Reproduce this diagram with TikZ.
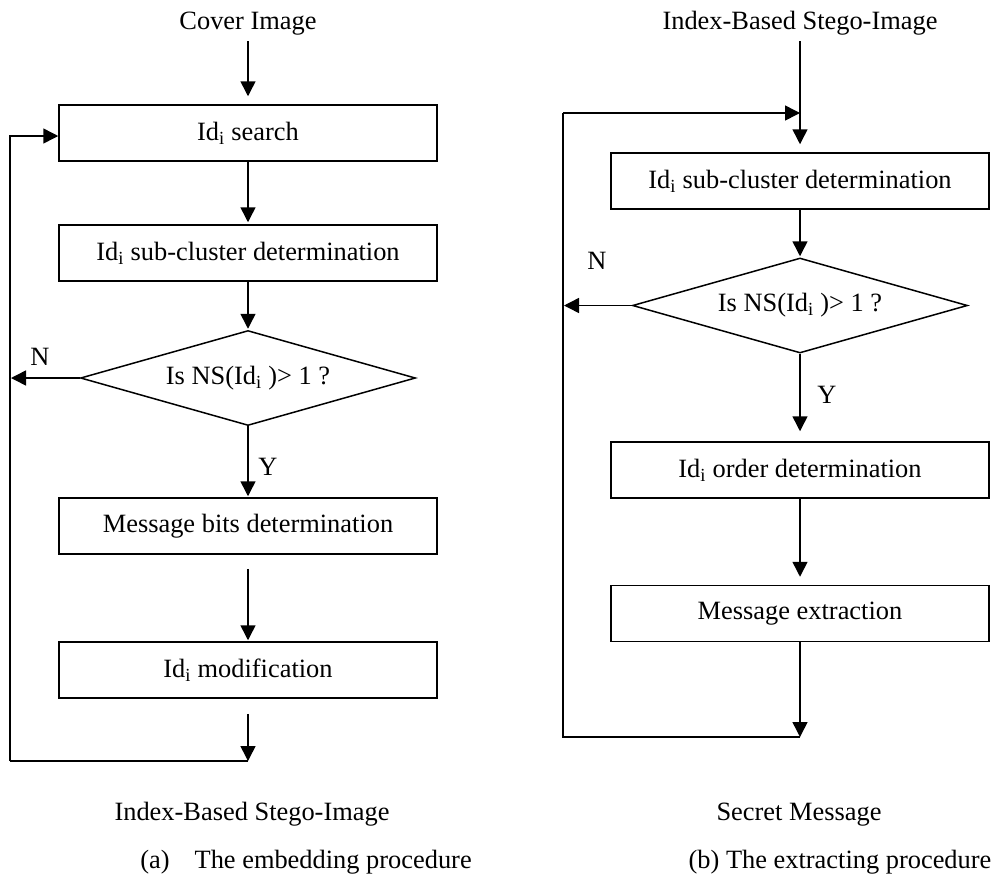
\documentclass[tikz,border=0pt]{standalone}
\usepackage{fontspec}
\setmainfont{Liberation Serif}
\usetikzlibrary{arrows.meta,shapes.geometric,calc}
\tikzset{
  txt/.style={font=\fontsize{26.4pt}{30pt}\selectfont, inner sep=0pt},
  box/.style={txt, draw, line width=1.5pt, minimum width=378pt, minimum height=56pt},
  decision/.style={txt, draw, line width=1.5pt, diamond, aspect=3.5, minimum width=335pt, minimum height=95pt},
  arr/.style={line width=1.5pt, -{Triangle[length=15pt,width=15pt]}},
  ln/.style={line width=1.5pt}
}
\newcommand{\Idi}{Id\textsubscript{i}}
\begin{document}
\begin{tikzpicture}[x=1pt,y=-1pt]
\useasboundingbox (0,0) rectangle (995,884);
% ---------- left: embedding ----------
\node[txt, anchor=base] (cover) at (248,29) {Cover Image};
\node[box] (s1) at (248,133) {\Idi\ search};
\node[box] (s2) at (248,253) {\Idi\ sub-cluster determination};
\node[decision] (d1) at (248,378) {Is NS(\Idi\ )> 1 ?};
\node[box] (s3) at (248,526) {Message bits determination};
\node[box] (s4) at (248,670) {\Idi\ modification};
\coordinate (lb) at (248,761);
\coordinate (ll) at (10,761);
\node[txt] (nl) at (40,357) {N};
\node[txt] (yl) at (268,467) {Y};
\draw[arr, shorten >=8pt] ($(cover.base)+(0,12)$) -- (s1.north);
\draw[arr, shorten >=2pt] (s1) -- (s2);
\draw[arr, shorten >=1pt] (s2) -- (d1);
\draw[arr, shorten >=1pt] (d1) -- (s3);
\draw[arr, shorten <=14pt, shorten >=1pt] (s3) -- (s4);
\draw[arr] ($(s4.south)+(0,15)$) -- (lb);
\draw[ln] (lb) -- (ll);
\draw[arr] (ll) |- ($(s1.west)+(0,3)$);
\draw[arr] (d1.west) -- ($(d1.west -| ll)+(1,0)$);
\node[txt, anchor=base] (outa) at (252,820) {Index-Based Stego-Image};
\node[txt, anchor=base] (capa) at (306,868) {(a)\hspace{0.95em}The embedding procedure};
% ---------- right: extracting ----------
\node[txt, anchor=base] (stego) at (800,29) {Index-Based Stego-Image};
\node[box] (r1) at (800,181) {\Idi\ sub-cluster determination};
\node[decision] (rd) at (800,305.5) {Is NS(\Idi\ )> 1 ?};
\node[box] (r2) at (800,470) {\Idi\ order determination};
\node[box] (r3) at (800,613.5) {Message extraction};
\coordinate (rm) at (800,113);
\coordinate (rtl) at (563,113);
\coordinate (rbl) at (563,737);
\coordinate (rb) at (800,737);
\node[txt] (nr) at (597,261) {N};
\node[txt] (yr) at (827,395) {Y};
\draw[arr, shorten >=8pt] ($(stego.base)+(0,12)$) -- (r1.north);
\draw[arr, shorten >=1pt] (r1) -- (rd);
\draw[arr, shorten >=10pt] (rd) -- (r2);
\draw[arr, shorten >=8pt] (r2) -- (r3);
\draw[arr] (r3) -- (rb);
\draw[ln] (rb) -- (rbl) -- (rtl);
\draw[arr] (rtl) -- (rm);
\draw[arr] (rd.west) -- ($(rd.west -| rbl)+(1,0)$);
\node[txt, anchor=base] (outb) at (799,820) {Secret Message};
\node[txt, anchor=base] (capb) at (840,868) {(b) The extracting procedure};
\end{tikzpicture}
\end{document}
